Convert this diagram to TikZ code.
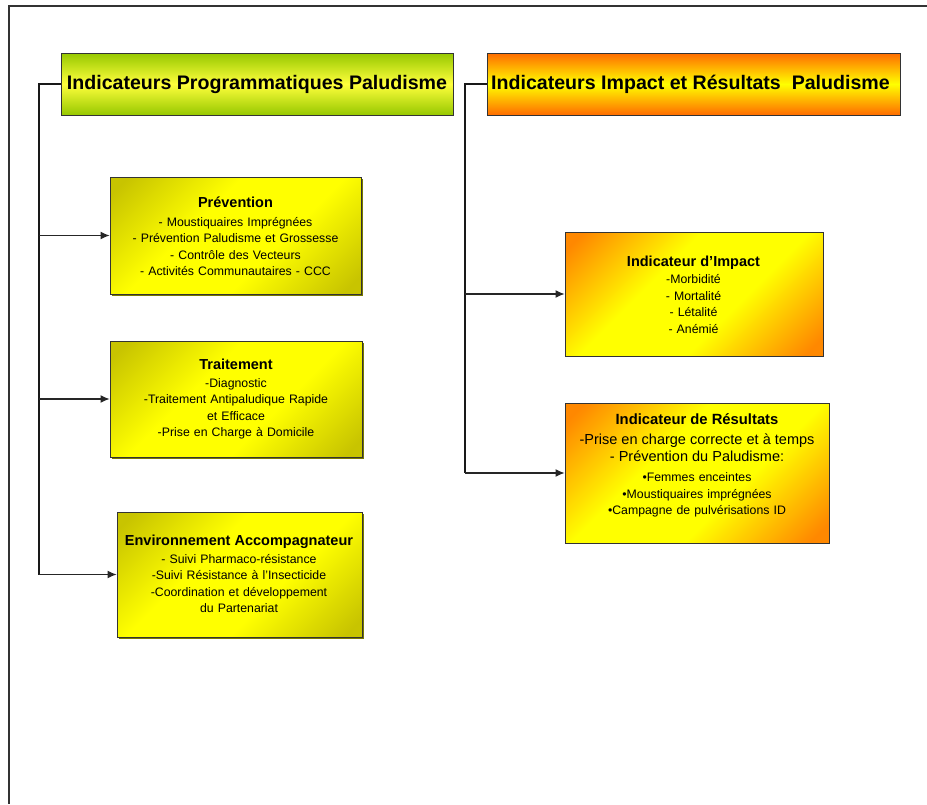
\documentclass[tikz,border=0pt]{standalone}
\usepackage{fontspec}
\setmainfont{Liberation Sans}
\usetikzlibrary{arrows.meta,shadows}
\definecolor{darkyel}{RGB}{200,196,0}
\definecolor{orgcorner}{RGB}{255,136,0}
\definecolor{hgreen}{RGB}{150,200,0}
\definecolor{hyel}{RGB}{255,255,60}
\definecolor{horange}{RGB}{255,108,0}
\definecolor{yshadow}{RGB}{120,120,0}
\pgfdeclareverticalshading{greenhead}{100bp}{color(0bp)=(hgreen); color(25bp)=(hgreen); color(50bp)=(hyel); color(75bp)=(hgreen); color(100bp)=(hgreen)}
\pgfdeclareverticalshading{orangehead}{100bp}{color(0bp)=(horange); color(25bp)=(horange); color(50bp)=(yellow); color(75bp)=(horange); color(100bp)=(horange)}
\pgfdeclarehorizontalshading{yeldiag}{100bp}{color(0bp)=(darkyel); color(18bp)=(darkyel); color(40bp)=(yellow); color(60bp)=(yellow); color(82bp)=(darkyel); color(100bp)=(darkyel)}
\pgfdeclarehorizontalshading{orgdiag}{100bp}{color(0bp)=(orgcorner); color(18bp)=(orgcorner); color(40bp)=(yellow); color(60bp)=(yellow); color(82bp)=(orgcorner); color(100bp)=(orgcorner)}
\tikzset{
  boxbase/.style={draw=black!80, line width=0.9pt, inner sep=0pt},
  greenhdr/.style={boxbase, shading=greenhead, drop shadow={shadow xshift=1.2pt, shadow yshift=-1.2pt, fill=black!60, opacity=1}},
  orangehdr/.style={boxbase, shading=orangehead, drop shadow={shadow xshift=1.2pt, shadow yshift=-1.2pt, fill=black!60, opacity=1}},
  yelbox/.style={boxbase, shading=yeldiag, shading angle=-45, drop shadow={shadow xshift=1.5pt, shadow yshift=-1.5pt, fill=yshadow, opacity=1}},
  orgbox/.style={boxbase, shading=orgdiag, shading angle=-45},
  hdrtext/.style={font=\fontsize{19.6}{22}\selectfont\bfseries, inner sep=0pt},
  boxtext/.style={align=center, text width=#1, inner sep=0pt, font=\fontsize{12.3}{16.5}\selectfont},
  conn/.style={draw=black!90, line width=1.4pt},
  arr/.style={draw=black!85, line width=1.2pt, -{Latex[length=9pt,width=8pt]}},
  frame/.style={draw=black!80, line width=1.5pt}
}
\newcommand{\ttl}[1]{{\fontsize{14.5}{16.5}\selectfont\bfseries #1}}
\begin{document}
\begin{tikzpicture}[x=1pt,y=-1pt]
\useasboundingbox (0,0) rectangle (927,804);
\fill[white] (0,0) rectangle (927,804);
\draw[frame] (927,6) -- (9,6) -- (9,804);

% headers
\node[greenhdr, minimum width=392pt, minimum height=62pt] (h1) at (257,84) {};
\node[hdrtext] (h1t) at (257,84) {Indicateurs Programmatiques Paludisme};
\node[orangehdr, minimum width=413pt, minimum height=62pt] (h2) at (693.5,84) {};
\node[hdrtext] (h2t) at (690.5,84) {Indicateurs Impact et Résultats~~Paludisme};

% left boxes
\node[yelbox, minimum width=251pt, minimum height=117pt] (prev) at (235.5,235.5) {};
\node[boxtext=245pt] (prevt) at (235.5,236) {\ttl{Prévention}\\[2.5pt]
- Moustiquaires Imprégnées\\
- Prévention Paludisme et Grossesse\\
- Contrôle des Vecteurs\\
- Activités Communautaires - CCC};

\node[yelbox, minimum width=252pt, minimum height=116pt] (trait) at (236,399) {};
\node[boxtext=245pt] (traitt) at (236,399.5) {\ttl{Traitement}\\[1pt]
-Diagnostic\\
-Traitement Antipaludique Rapide\\
et Efficace\\
-Prise en Charge à Domicile};

\node[yelbox, minimum width=245pt, minimum height=125pt] (env) at (239.5,574.5) {};
\node[boxtext=240pt] (envt) at (239,574) {\ttl{Environnement Accompagnateur}\\[1pt]
- Suivi Pharmaco-résistance\\
-Suivi Résistance à l’Insecticide\\
-Coordination et développement\\
du Partenariat};

% right boxes
\node[orgbox, minimum width=258pt, minimum height=124pt] (imp) at (694,294) {};
\node[boxtext=250pt] (impt) at (693.5,295) {\ttl{Indicateur d’Impact}\\[0.5pt]
-Morbidité\\
- Mortalité\\
- Létalité\\
- Anémié};

\node[orgbox, minimum width=264pt, minimum height=140pt] (res) at (697,473) {};
\node[boxtext=258pt] (rest) at (697,465.5) {{\fontsize{14.8}{16.5}\selectfont\bfseries Indicateur de Résultats}\\[3.5pt]
{\fontsize{14.5}{16.5}\selectfont -Prise en charge correcte et à temps}\\[0.5pt]
{\fontsize{14.5}{16.5}\selectfont - Prévention du Paludisme:}\\[3.5pt]
•Femmes enceintes\\
•Moustiquaires imprégnées\\
•Campagne de pulvérisations ID};

% connectors left
\coordinate (lx) at (39,0);
\coordinate (lend) at (env.west -| lx);
\draw[conn] (h1.west) -| (lend);
\draw[arr] (prev.west -| lx) -- (prev.west);
\draw[arr] (trait.west -| lx) -- (trait.west);
\draw[arr] (lend) -- (env.west);

% connectors right
\coordinate (rx) at (465,0);
\coordinate (rend) at (res.west -| rx);
\draw[conn] (h2.west) -| (rend);
\draw[arr] (imp.west -| rx) -- (imp.west);
\draw[arr] (rend) -- (res.west);
\end{tikzpicture}
\end{document}
